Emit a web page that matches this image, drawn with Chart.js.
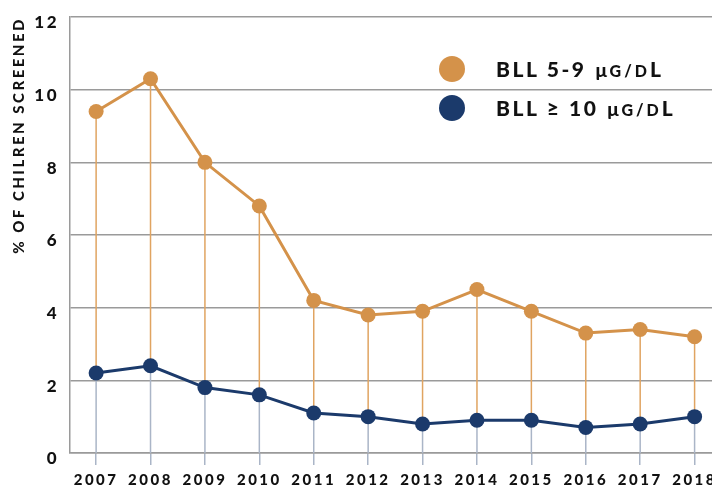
<!DOCTYPE html>
<html>
<head>
<meta charset="utf-8">
<script src="https://cdn.jsdelivr.net/npm/chart.js@4.4.0/dist/chart.umd.min.js"></script>
<style>
  html, body { margin: 0; padding: 0; background: #fff; }
  #wrap { width: 712px; height: 485px; }
</style>
</head>
<body>
<div id="wrap"><canvas id="myChart"></canvas></div>
<script>
const years = [2007, 2008, 2009, 2010, 2011, 2012, 2013, 2014, 2015, 2016, 2017, 2018];
const bll5to9 = [9.4, 10.3, 8.0, 6.8, 4.2, 3.8, 3.9, 4.5, 3.9, 3.3, 3.4, 3.2];
const bll10plus = [2.2, 2.4, 1.8, 1.6, 1.1, 1.0, 0.8, 0.9, 0.9, 0.7, 0.8, 1.0];
const yTicks = [0, 2, 4, 6, 8, 10, 12];

const ORANGE = '#d4924a';
const BLUE = '#1b3a6b';
const FONT = 'Lato';

// stems from each point down (orange to the blue point, blue to the axis)
const dropLines = {
  id: 'dropLines',
  beforeDatasetsDraw(chart) {
    const ctx = chart.ctx;
    const top = chart.getDatasetMeta(0).data;
    const low = chart.getDatasetMeta(1).data;
    const yBase = chart.scales.y.getPixelForValue(0);
    ctx.save();
    ctx.lineWidth = 1.5;
    top.forEach((p, i) => {
      ctx.strokeStyle = '#e0a461';
      ctx.beginPath();
      ctx.moveTo(p.x, p.y);
      ctx.lineTo(low[i].x, low[i].y);
      ctx.stroke();
      ctx.strokeStyle = '#aab5c7';
      ctx.beginPath();
      ctx.moveTo(low[i].x, low[i].y);
      ctx.lineTo(low[i].x, yBase);
      ctx.stroke();
    });
    ctx.restore();
  }
};

// legend with small-caps unit (μg/dL -> μ G/D small, L full)
const unitLegend = {
  id: 'unitLegend',
  afterDraw(chart) {
    const ctx = chart.ctx;
    const rows = [69, 108];
    ctx.save();
    ctx.letterSpacing = '2.5px';
    ctx.textBaseline = 'alphabetic';
    chart.data.datasets.forEach((ds, i) => {
      const y = rows[i];
      ctx.beginPath();
      ctx.fillStyle = ds.backgroundColor;
      ctx.arc(452, y, 13, 0, Math.PI * 2);
      ctx.fill();
      const [head, unit] = ds.label.split(' μ');
      const base = y + 8;
      let x = 496;
      ctx.fillStyle = '#111';
      const put = (t, size) => {
        ctx.font = `900 ${size}px ${FONT}`;
        ctx.fillText(t, x, base);
        x += ctx.measureText(t).width;
      };
      put(head, 21);
      x += 9;
      put('μ', 19);
      const u = unit.toUpperCase();
      ctx.letterSpacing = '3px';
      put(u.slice(0, -1), 16);
      put(u.slice(-1), 21);
      ctx.letterSpacing = '2.5px';
    });
    ctx.restore();
  }
};

const spacing = {
  id: 'spacing',
  beforeInit(chart) { chart.ctx.letterSpacing = '2.5px'; },
  beforeDraw(chart) { chart.ctx.letterSpacing = '2.5px'; }
};

const data = {
  datasets: [{
    label: 'BLL 5-9 μg/dL',
    data: years.map((yr, i) => ({ x: yr, y: bll5to9[i] })),
    borderColor: ORANGE,
    backgroundColor: ORANGE,
    borderWidth: 3,
    pointRadius: 7.5,
    pointHoverRadius: 7.5,
    pointBorderWidth: 0
  }, {
    label: 'BLL ≥ 10 μg/dL',
    data: years.map((yr, i) => ({ x: yr, y: bll10plus[i] })),
    borderColor: BLUE,
    backgroundColor: BLUE,
    borderWidth: 3,
    pointRadius: 7.5,
    pointHoverRadius: 7.5,
    pointBorderWidth: 0
  }]
};

const config = {
  type: 'line',
  data: data,
  options: {
    responsive: true,
    maintainAspectRatio: false,
    animation: false,
    layout: { autoPadding: false, padding: { top: 17, right: 0, left: 0, bottom: 0 } },
    plugins: { legend: { display: false }, tooltip: { enabled: false } },
    scales: {
      x: {
        type: 'linear',
        min: 2006.52,
        max: 2018.32,
        afterBuildTicks(scale) {
          scale.ticks = years.map(v => ({ value: v }));
        },
        afterFit(scale) {
          scale.height = 32;
          scale.paddingLeft = 0;
          scale.paddingRight = 0;
        },
        grid: {
          drawOnChartArea: false,
          color: '#aab5c7',
          lineWidth: 1.5,
          tickLength: 12
        },
        border: { color: '#9a9a9a', width: 1.5 },
        ticks: {
          color: '#111',
          padding: 6,
          maxRotation: 0,
          autoSkip: false,
          font: { family: FONT, weight: '900', size: 15 },
          callback: v => String(v)
        }
      },
      y: {
        min: 0,
        max: 12,
        afterBuildTicks(scale) {
          scale.ticks = yTicks.map(v => ({ value: v }));
        },
        afterFit(scale) {
          scale.width = 70;
          scale.paddingTop = 0;
          scale.paddingBottom = 0;
        },
        grid: { color: '#9a9a9a', lineWidth: 1.5, drawTicks: false },
        border: { color: '#9a9a9a', width: 1.5 },
        ticks: {
          color: '#111',
          padding: 11,
          labelOffset: 6,
          font: { family: FONT, weight: '900', size: 17 }
        },
        title: {
          display: true,
          text: '% OF CHILREN SCREENED',
          align: 'end',
          color: '#111',
          padding: { top: 10, bottom: 0 },
          font: { family: FONT, weight: '900', size: 15 }
        }
      }
    }
  },
  plugins: [spacing, dropLines, unitLegend]
};

new Chart(document.getElementById('myChart'), config);
</script>
</body>
</html>
